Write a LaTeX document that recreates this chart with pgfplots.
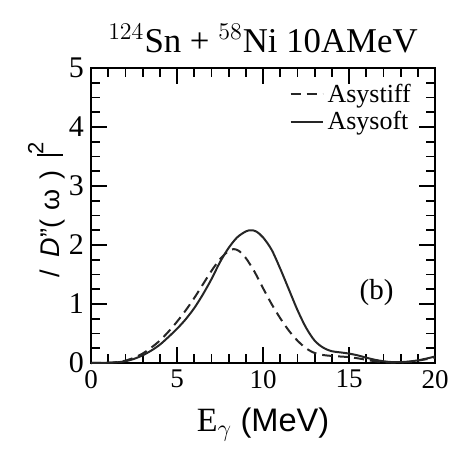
\documentclass[border=0pt]{standalone}
\usepackage{fontspec}
\setmainfont{Liberation Serif}
\setsansfont{Liberation Sans}
\usepackage{pgfplots}
\pgfplotsset{compat=1.18}

% Dipole emission spectra, asystiff vs asysoft
\pgfplotstableread{
x y
0    0.000
1    0.005
1.5  0.015
2    0.040
2.5  0.090
3    0.160
3.5  0.260
4    0.380
4.5  0.530
5    0.700
5.5  0.890
6    1.100
6.5  1.330
7    1.560
7.5  1.760
8    1.900
8.3  1.930
8.6  1.900
9    1.780
9.5  1.550
10   1.270
10.5 1.000
11   0.760
11.5 0.550
12   0.380
12.5 0.250
13   0.170
13.5 0.135
14   0.120
14.5 0.110
15   0.100
15.5 0.080
16   0.055
16.5 0.030
17   0.015
17.5 0.008
18   0.010
18.5 0.020
19   0.040
19.5 0.065
20   0.090
}\stiff

\pgfplotstableread{
x y
0    0.000
1    0.005
1.5  0.012
2    0.030
2.5  0.070
3    0.130
3.5  0.210
4    0.310
4.5  0.440
5    0.580
5.5  0.740
6    0.930
6.5  1.160
7    1.420
7.5  1.710
8    1.950
8.5  2.130
9    2.230
9.3  2.250
9.6  2.230
10   2.130
10.5 1.920
11   1.600
11.5 1.250
12   0.900
12.5 0.600
13   0.380
13.5 0.260
14   0.200
14.5 0.180
15   0.160
15.5 0.130
16   0.090
16.5 0.055
17   0.030
17.5 0.015
18   0.015
18.5 0.025
19   0.045
19.5 0.075
20   0.110
}\soft

\begin{document}
\begin{tikzpicture}
\begin{axis}[
  name=main,
  scale only axis,
  width=172pt, height=147.5pt,
  xmin=0, xmax=20, ymin=0, ymax=5,
  xtick={0,5,10,15,20}, ytick={0,1,2,3,4,5},
  minor x tick num=4, minor y tick num=3,
  tick align=inside,
  major tick length=8pt, minor tick length=4.5pt,
  every tick/.style={black, line width=0.9pt},
  axis line style={line width=1.4pt},
  /pgf/number format/assume math mode=true,
  x tick label style={font=\fontsize{13.5}{15}\selectfont},
  y tick label style={font=\fontsize{15}{17}\selectfont},
  title={$^{124}$Sn + $^{58}$Ni 10AMeV},
  title style={font=\fontsize{17.4}{20}\selectfont, yshift=-2pt},
  xlabel={\fontsize{17}{19}\selectfont E$_\mathrm{\gamma}$ {\sffamily\fontsize{16.3}{19}\selectfont (MeV)}},
  xlabel style={yshift=-3pt},
  ylabel={\sffamily\fontsize{13.5}{15}\selectfont /\hspace{0.45em}\textit{D}''(\hspace{0.35em}ω\hspace{0.35em})\hspace{0.55em}\rule[-0.12em]{0.07em}{0.95em}\raisebox{0.6em}{\fontsize{11}{12}\selectfont 2}},
  ylabel style={yshift=-5pt, xshift=3pt},
  legend style={draw=none, fill=none, at={(0.96,0.975)}, anchor=north east,
    font=\fontsize{13}{13.5}\selectfont, row sep=-1pt},
  legend cell align=left,
  legend image code/.code={\draw[#1] (0pt,0pt) -- (16pt,0pt);},
  clip=false,
]
\addplot[black!85, line width=1pt, dash pattern=on 5pt off 3pt, smooth]
  table[x=x,y=y]{\stiff};
\addlegendentry{Asystiff}
\addplot[black!85, line width=1pt, smooth]
  table[x=x,y=y]{\soft};
\addlegendentry{Asysoft}
\node[font=\fontsize{14.5}{16}\selectfont] at (axis cs:16.6,1.19) {(b)};
\end{axis}
\pgfresetboundingbox
\path[use as bounding box]
  ([xshift=-45.5pt,yshift=-43pt]main.south west)
  rectangle ([xshift=11pt,yshift=34pt]main.north east);
\end{tikzpicture}
\end{document}
